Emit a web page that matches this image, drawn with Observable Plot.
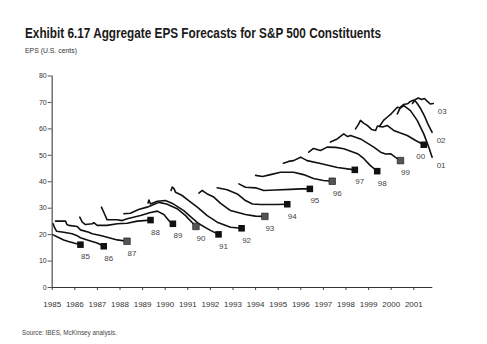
<!DOCTYPE html>
<html><head><meta charset="utf-8">
<script src="https://cdn.jsdelivr.net/npm/d3@7"></script>
<script src="https://cdn.jsdelivr.net/npm/@observablehq/plot@0.6"></script>
<style>
html,body{margin:0;padding:0;background:#fff;}
#wrap{position:relative;width:487px;height:344px;overflow:hidden;font-family:"Liberation Sans",Arial,sans-serif;}
.fit{position:absolute;white-space:nowrap;transform-origin:left top;line-height:1.15;}
#title{left:25px;top:25px;font-weight:bold;font-size:14px;color:#1a1a1a;}
#sub{left:25px;top:47px;font-size:7px;color:#333;}
#src{left:22px;top:328.5px;font-size:7px;color:#444;}
#chart{position:absolute;left:0;top:60px;}
</style></head><body>
<div id="wrap">
  <div id="title" class="fit">Exhibit 6.17 Aggregate EPS Forecasts for S&amp;P 500 Constituents</div>
  <div id="sub" class="fit">EPS (U.S. cents)</div>
  <div id="chart"></div>
  <div id="src" class="fit">Source: IBES, McKinsey analysis.</div>
</div>
<script>
// ---- data (year, EPS in US cents) ----
const yearTicks = [1985,1986,1987,1988,1989,1990,1991,1992,1993,1994,1995,1996,1997,1998,1999,2000,2001];
const epsTicks = [0,10,20,30,40,50,60,70,80];

const eps85 = [[1985.04,19.9],[1985.28,18.9],[1985.51,18.0],[1985.72,17.4],[1985.96,16.8],[1986.25,16.2]];
const eps86 = [[1985.04,24.1],[1985.10,22.7],[1985.19,21.3],[1985.51,20.9],[1985.88,20.3],[1986.08,19.7],[1986.25,18.8],[1986.62,17.8],[1986.99,16.8],[1987.28,15.6]];
const eps87 = [[1985.15,25.1],[1985.59,25.1],[1985.65,23.8],[1985.73,23.5],[1986.11,23.1],[1986.25,21.8],[1986.62,20.9],[1986.77,20.3],[1987.14,19.7],[1987.43,19.0],[1987.88,18.0],[1988.31,17.5]];
const eps88 = [[1986.22,26.6],[1986.33,24.7],[1986.47,23.8],[1986.77,24.1],[1986.84,24.5],[1986.99,23.5],[1987.43,23.5],[1987.88,24.1],[1988.32,24.3],[1988.76,25.1],[1989.35,25.5]];
const eps89 = [[1987.18,30.4],[1987.31,27.9],[1987.43,25.6],[1987.88,25.6],[1988.10,25.3],[1988.32,26.0],[1988.91,27.2],[1989.35,28.4],[1989.65,28.9],[1989.94,27.6],[1990.16,25.3],[1990.34,24.1]];
const eps90 = [[1988.17,27.9],[1988.46,28.1],[1988.82,29.5],[1989.20,30.4],[1989.44,31.2],[1989.72,32.2],[1990.06,31.6],[1990.53,29.8],[1990.90,27.2],[1991.36,23.1]];
const eps91 = [[1989.24,32.0],[1989.28,33.1],[1989.35,31.6],[1989.65,32.6],[1990.01,32.9],[1990.32,31.8],[1990.82,29.1],[1991.16,26.5],[1991.49,24.1],[1992.00,21.6],[1992.36,20.1]];
const eps92 = [[1990.26,36.7],[1990.31,38.0],[1990.39,37.4],[1990.46,36.0],[1990.75,34.8],[1991.04,32.9],[1991.42,30.4],[1991.86,27.2],[1992.30,24.7],[1992.89,22.8],[1993.38,22.4]];
const eps93 = [[1991.49,35.7],[1991.64,36.7],[1991.74,36.1],[1991.86,35.4],[1992.15,34.2],[1992.45,31.8],[1992.89,29.1],[1993.55,27.6],[1993.99,27.0],[1994.41,26.9]];
const eps94 = [[1992.30,37.7],[1992.74,37.0],[1993.19,35.4],[1993.55,32.9],[1993.86,31.6],[1994.22,31.4],[1994.88,31.4],[1995.40,31.5]];
const eps95 = [[1993.26,39.2],[1993.55,37.9],[1994.00,37.7],[1994.36,36.7],[1994.88,36.9],[1995.54,37.1],[1995.99,37.3],[1996.40,37.3]];
const eps96 = [[1994.00,42.4],[1994.31,42.0],[1994.66,42.7],[1995.10,43.6],[1995.68,43.6],[1996.12,42.7],[1996.56,41.2],[1997.00,40.5],[1997.39,40.2]];
const eps97 = [[1995.23,47.0],[1995.46,47.7],[1995.68,48.0],[1995.99,49.3],[1996.28,48.0],[1996.87,46.9],[1997.62,45.4],[1998.39,44.5]];
const eps98 = [[1996.35,51.2],[1996.56,52.6],[1996.87,51.8],[1997.17,53.1],[1997.54,53.0],[1997.90,52.5],[1998.51,50.6],[1998.78,48.8],[1999.08,46.1],[1999.38,44.0]];
const eps99 = [[1997.31,55.0],[1997.61,56.2],[1997.90,58.1],[1998.07,57.1],[1998.20,57.5],[1998.64,56.2],[1999.23,53.1],[1999.53,51.2],[1999.75,50.5],[1999.97,50.6],[2000.19,49.2],[2000.41,48.0]];
const eps00 = [[1998.42,60.0],[1998.55,61.7],[1998.64,63.2],[1998.78,62.2],[1998.94,61.3],[1999.13,59.8],[1999.31,59.4],[1999.39,61.1],[1999.62,60.7],[1999.82,61.3],[2000.11,59.4],[2000.41,58.4],[2000.71,57.5],[2001.08,55.6],[2001.44,54.0]];
const eps01 = [[1999.48,60.9],[1999.66,63.2],[1999.82,64.4],[2000.01,65.8],[2000.27,68.2],[2000.41,67.9],[2000.56,68.8],[2000.85,66.9],[2001.15,63.2],[2001.44,58.1],[2001.66,53.1],[2001.81,49.3]];
const eps02 = [[2000.27,65.7],[2000.41,68.2],[2000.54,69.2],[2000.72,69.5],[2000.85,70.4],[2001.00,70.9],[2001.12,70.0],[2001.30,67.7],[2001.48,64.7],[2001.62,61.9],[2001.81,58.7]];
const eps03 = [[2000.94,69.6],[2001.07,71.1],[2001.20,71.7],[2001.34,71.1],[2001.47,71.5],[2001.60,70.4],[2001.73,69.4],[2001.86,69.6]];

const seriesNames = ["85","86","87","88","89","90","91","92","93","94","95","96","97","98","99","00","01","02","03"];
const seriesData = [eps85,eps86,eps87,eps88,eps89,eps90,eps91,eps92,eps93,eps94,eps95,eps96,eps97,eps98,eps99,eps00,eps01,eps02,eps03];
const closedNames = ["85","86","87","88","89","90","91","92","93","94","95","96","97","98","99","00"];
const greyNames = ["87","90","93","96","99"];

// ---- build tables ----
const rows = seriesNames.flatMap((s, i) => seriesData[i].map(([year, eps]) => ({s, year, eps})));
const ends = seriesNames.map((s, i) => { const a = seriesData[i]; const [year, eps] = a[a.length - 1]; return {s, year, eps}; });
const closedEnds = ends.filter(d => closedNames.includes(d.s));
const openEnds = ends.filter(d => !closedNames.includes(d.s));

const chart = Plot.plot({
  width: 487, height: 260,
  marginTop: 15.5, marginBottom: 33, marginLeft: 51.7, marginRight: 54.7,
  x: {domain: [1985, 2001.84]},
  y: {domain: [0, 80]},
  style: {fontFamily: "'Liberation Sans', Arial, sans-serif", color: "#333", background: "#fff", overflow: "visible"},
  marks: [
    Plot.axisX({ticks: yearTicks, tickFormat: d => String(d), tickSize: 3, tickPadding: 11, fontSize: 8, label: null, stroke: "#444"}),
    Plot.axisY({ticks: epsTicks, tickSize: 4, tickPadding: 1.5, fontSize: 7, label: null, stroke: "#555"}),
    Plot.ruleX([1985], {y1: 0, y2: 80, stroke: "#666", strokeWidth: 1.4}),
    Plot.ruleY([0], {x1: 1985, x2: 2001.84, stroke: "#333", strokeWidth: 1.2}),
    Plot.line(rows, {x: "year", y: "eps", z: "s", stroke: "#111", strokeWidth: 1.6}),
    Plot.dot(closedEnds.filter(d => !greyNames.includes(d.s)), {x: "year", y: "eps", symbol: "square", r: 3.7, fill: "#111"}),
    Plot.dot(closedEnds.filter(d => greyNames.includes(d.s)), {x: "year", y: "eps", symbol: "square", r: 3.7, fill: "#555", stroke: "#111", strokeWidth: 0.6}),
    Plot.text(closedEnds.filter(d => d.s !== "00"), {x: "year", y: "eps", text: "s", dx: 5, dy: 12, fontSize: 8, fill: "#444"}),
    Plot.text(closedEnds.filter(d => d.s === "00"), {x: "year", y: "eps", text: "s", dx: -3, dy: 12, fontSize: 8, fill: "#444"}),
    Plot.text(openEnds, {x: "year", y: "eps", text: "s", dx: 9, dy: 8, fontSize: 8, fill: "#444"})
  ]
});
document.getElementById("chart").appendChild(chart);

function fit(id, w) {
  const el = document.getElementById(id);
  const r = el.getBoundingClientRect().width;
  el.style.transform = `scaleX(${w / r})`;
}
fit("title", 356);
fit("sub", 52);
fit("src", 95);
</script>
</body></html>
